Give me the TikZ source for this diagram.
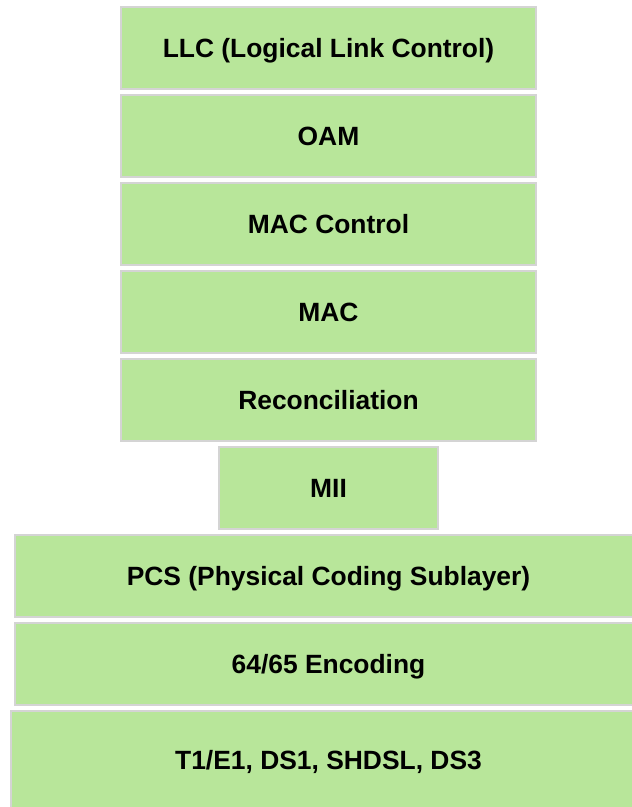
\documentclass[tikz,border=0pt]{standalone}
\usepackage{fontspec}
\setmainfont{Liberation Sans}
\usepackage{tikz}
\usetikzlibrary{positioning}
\definecolor{layergreen}{HTML}{B8E69A}
\definecolor{layergray}{HTML}{D4D4D4}

\begin{document}
\begin{tikzpicture}[
    node distance=4pt,
    layer/.style={rectangle, draw=layergray, fill=layergreen, line width=2pt, minimum height=82pt, text height=19pt, text depth=0pt, align=center, font=\fontsize{26.4}{30}\selectfont\bfseries},
    upper/.style={layer, minimum width=415pt},
    lower/.style={layer, minimum width=627pt}
]

\useasboundingbox (0pt,0pt) rectangle (632pt,-807pt);

% upper layers
\node[upper] (llc) at (328.5pt,-48pt) {LLC (Logical Link Control)};
\node[upper, below=of llc] (oam) {OAM};
\node[upper, below=of oam] (macctl) {MAC Control};
\node[upper, below=of macctl] (mac) {MAC};
\node[upper, below=of mac] (recon) {Reconciliation};

% interface
\node[layer, minimum width=219pt, below=of recon] (mii) {MII};

% physical layers
\node[lower, below=of mii] (pcs) {PCS (Physical Coding Sublayer)};
\node[lower, below=of pcs] (enc) {64/65 Encoding};
\node[layer, minimum width=635pt, minimum height=98pt, below=of enc] (phy) {T1/E1, DS1, SHDSL, DS3};

\end{tikzpicture}
\end{document}
